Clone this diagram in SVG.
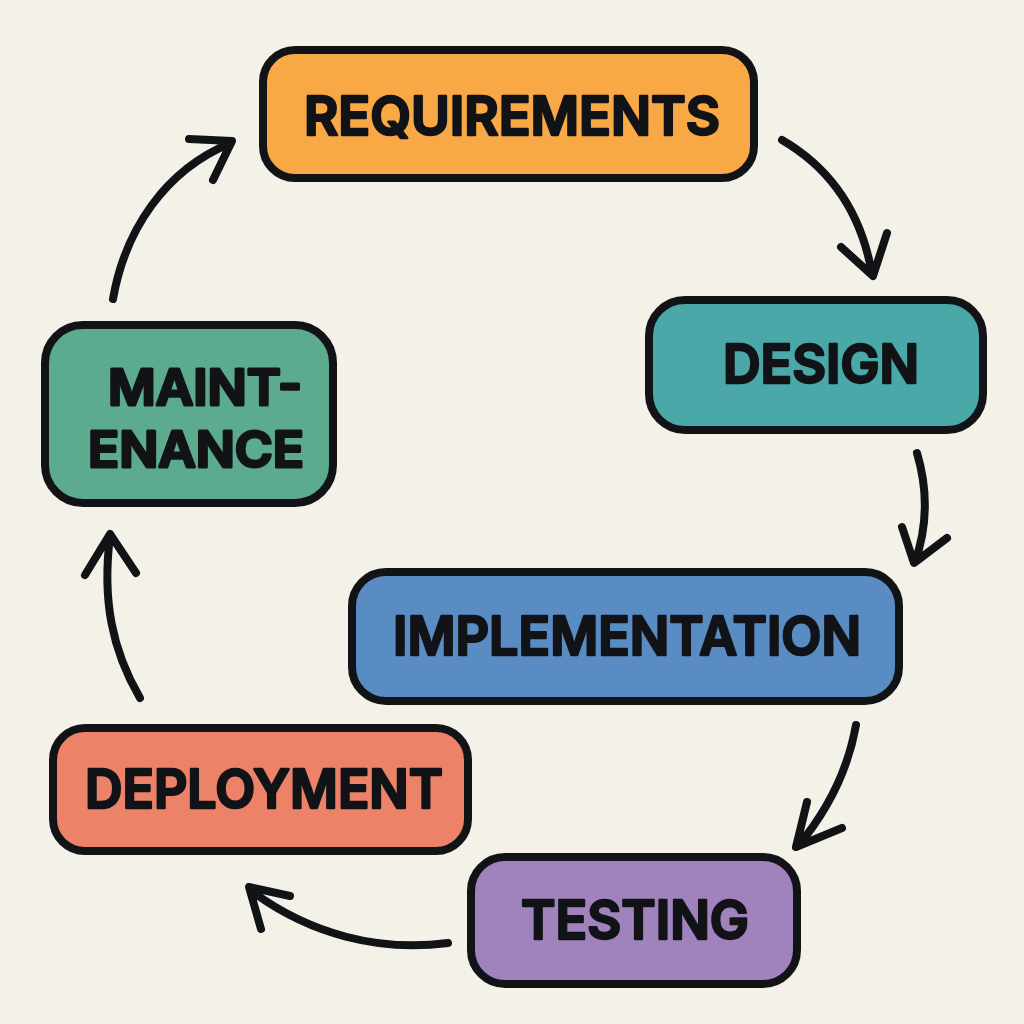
<svg xmlns="http://www.w3.org/2000/svg" width="1024" height="1024" viewBox="0 0 1024 1024">
<style>
.n{stroke:#111317;stroke-width:8}
.t{font-family:"Inter","Liberation Sans",sans-serif;font-weight:600;font-size:54px;fill:#111317;text-anchor:middle;stroke:#111317;stroke-width:2.5;stroke-linejoin:round}
.m{font-size:50px;stroke-width:3}
.c{fill:none;stroke:#111317;stroke-width:8;stroke-linecap:round;stroke-linejoin:round}
</style>
<rect width="1024" height="1024" fill="#f4f1e8"/>
<g id="requirements"><rect class="n" x="263" y="50" width="491" height="128" rx="32" fill="#f9a846"/><text class="t" x="512" y="135" textLength="416" lengthAdjust="spacingAndGlyphs">REQUIREMENTS</text></g>
<g id="design"><rect class="n" x="649" y="300" width="334" height="130" rx="36" fill="#4aa9a8"/><text class="t" x="821" y="383" textLength="196" lengthAdjust="spacingAndGlyphs">DESIGN</text></g>
<g id="implementation"><rect class="n" x="352" y="572" width="547" height="129" rx="34" fill="#5a8cc4"/><text class="t" x="627" y="655" textLength="468" lengthAdjust="spacingAndGlyphs">IMPLEMENTATION</text></g>
<g id="testing"><rect class="n" x="471" y="857" width="326" height="127" rx="34" fill="#a083bd"/><text class="t" x="635" y="939" textLength="228" lengthAdjust="spacingAndGlyphs">TESTING</text></g>
<g id="deployment"><rect class="n" x="53" y="728" width="415" height="123" rx="32" fill="#ec8268"/><text class="t" x="264" y="808" textLength="358" lengthAdjust="spacingAndGlyphs">DEPLOYMENT</text></g>
<g id="maintenance"><rect class="n" x="45" y="325" width="288" height="178" rx="38" fill="#5dab8e"/><text class="t m" x="205" y="405" textLength="194" lengthAdjust="spacingAndGlyphs">MAINT-</text><text class="t m" x="196" y="467" textLength="216" lengthAdjust="spacingAndGlyphs">ENANCE</text></g>
<g id="connectors">
<path class="c" d="M782 140C825 165 860 205 872 274M841 247L873 276L887 233"/>
<path class="c" d="M917 453C928 490 928 525 915 562M902 527L914 563L947 538"/>
<path class="c" d="M856 725C848 770 828 810 798 846M807 802L796 847L842 828"/>
<path class="c" d="M448 943C380 952 310 935 250 890M290 896L249 887L261 929"/>
<path class="c" d="M140 698C112 650 102 600 110 536M85 575L110 534L136 573"/>
<path class="c" d="M113 299C125 230 165 170 231 143M189 139L232 141L213 180"/>
</g>
</svg>
